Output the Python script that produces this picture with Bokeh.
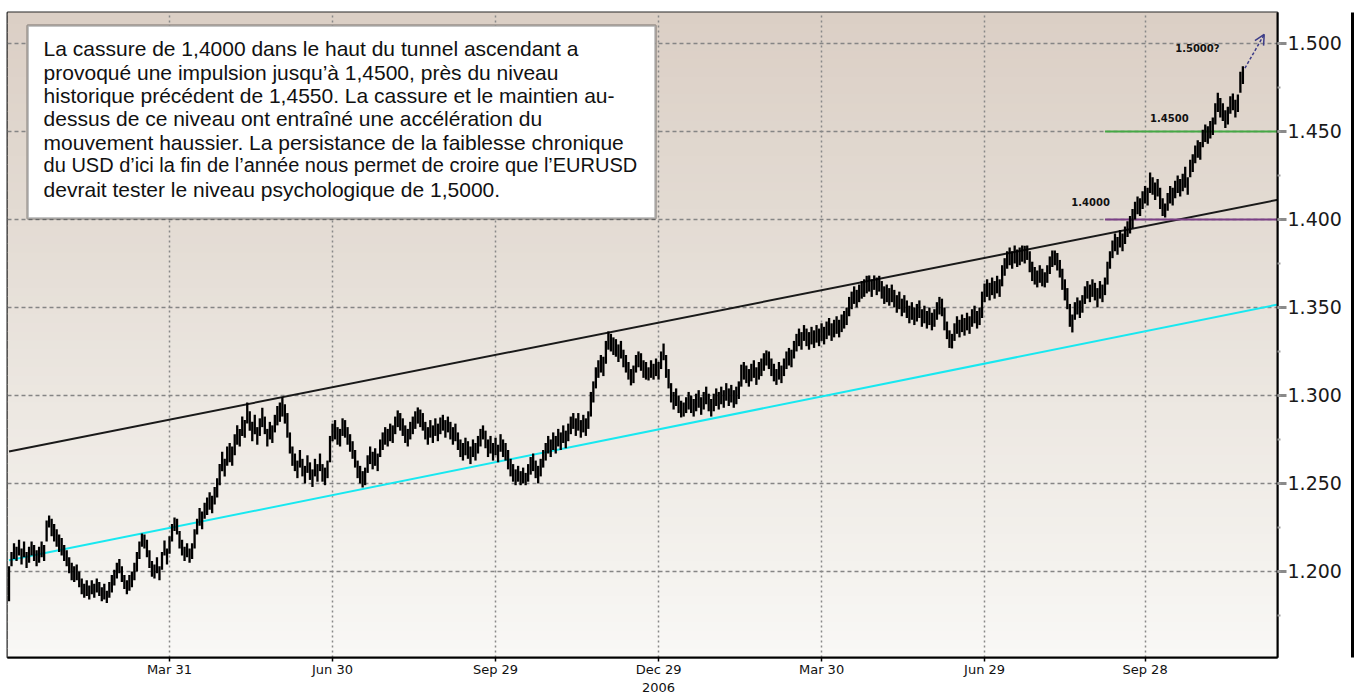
from bokeh.plotting import figure
from bokeh.models import (Range1d, FixedTicker, SingleIntervalTicker, NumeralTickFormatter,
                          BoxAnnotation, Label, Arrow, OpenHead, ColumnDataSource, LinearAxis)
from bokeh.embed import file_html
from bokeh.resources import INLINE

# ---------------- data (EUR/USD daily bars, Jan 2006 - Nov 2007), prices in 1/10000 ----------------
low_pips = [
    11830, 12030, 12070, 12060, 12090, 12040, 12080, 12020, 12050, 12090,
    12060, 12030, 12050, 12080, 12060, 12170, 12250, 12200, 12170, 12140,
    12110, 12090, 12060, 12030, 11990, 11950, 11940, 11950, 11910, 11870,
    11850, 11860, 11840, 11870, 11850, 11880, 11860, 11830, 11840, 11820,
    11850, 11880, 11920, 11960, 11990, 11940, 11900, 11870, 11890, 11910,
    11950, 12000, 12070, 12140, 12130, 12080, 12020, 11970, 11960, 11990,
    11950, 12010, 12090, 12040, 12100, 12170, 12230, 12210, 12130, 12090,
    12060, 12080, 12050, 12070, 12130, 12210, 12260, 12240, 12300, 12320,
    12350, 12330, 12380, 12420, 12490, 12570, 12540, 12600, 12620, 12600,
    12660, 12720, 12710, 12770, 12760, 12840, 12800, 12740, 12780, 12720,
    12770, 12820, 12780, 12710, 12750, 12730, 12790, 12830, 12850, 12880,
    12840, 12760, 12670, 12600, 12570, 12530, 12590, 12540, 12500, 12560,
    12520, 12480, 12540, 12510, 12570, 12510, 12490, 12530, 12620, 12740,
    12750, 12720, 12710, 12770, 12760, 12720, 12680, 12640, 12590, 12530,
    12500, 12477, 12490, 12560, 12610, 12580, 12600, 12570, 12650, 12690,
    12720, 12710, 12740, 12730, 12780, 12820, 12800, 12770, 12730, 12710,
    12750, 12780, 12810, 12840, 12820, 12800, 12750, 12720, 12760, 12730,
    12770, 12740, 12780, 12800, 12760, 12790, 12750, 12720, 12740, 12690,
    12650, 12630, 12660, 12640, 12610, 12650, 12630, 12670, 12710, 12750,
    12700, 12650, 12670, 12630, 12660, 12620, 12680, 12650, 12630, 12580,
    12540, 12510, 12490, 12510, 12490, 12500, 12490, 12510, 12550, 12570,
    12530, 12500, 12540, 12590, 12630, 12670, 12650, 12690, 12670, 12710,
    12690, 12730, 12700, 12740, 12780, 12810, 12770, 12800, 12760, 12790,
    12770, 12810, 12880, 12960, 13040, 13100, 13130, 13110, 13180, 13260,
    13250, 13230, 13220, 13190, 13210, 13160, 13130, 13090, 13057, 13070,
    13130, 13160, 13140, 13100, 13090, 13085, 13100, 13090, 13110, 13090,
    13150, 13200, 13100, 13040, 12960, 12920, 12940, 12900, 12875, 12880,
    12900, 12920, 12900, 12880, 12910, 12930, 12890, 12920, 12950, 12910,
    12880, 12910, 12940, 12920, 12950, 12930, 12970, 12940, 12960, 12930,
    12950, 12980, 13050, 13090, 13070, 13050, 13080, 13100, 13060, 13090,
    13110, 13140, 13170, 13150, 13110, 13080, 13060, 13090, 13070, 13110,
    13150, 13170, 13160, 13210, 13250, 13280, 13260, 13310, 13280, 13260,
    13290, 13270, 13300, 13280, 13310, 13290, 13320, 13340, 13310, 13330,
    13350, 13330, 13360, 13380, 13400, 13450, 13490, 13520, 13500, 13530,
    13550, 13560, 13580, 13590, 13560, 13600, 13570, 13590, 13550, 13520,
    13530, 13510, 13530, 13500, 13470, 13490, 13450, 13470, 13440, 13410,
    13430, 13400, 13420, 13440, 13390, 13410, 13380, 13400, 13370, 13390,
    13430, 13460, 13450, 13370, 13320, 13270, 13267, 13310, 13350, 13330,
    13360, 13340, 13370, 13350, 13390, 13410, 13380, 13400, 13440, 13530,
    13560, 13540, 13570, 13550, 13580, 13560, 13620, 13680, 13720, 13740,
    13720, 13750, 13730, 13740, 13760, 13750, 13770, 13700, 13650, 13630,
    13614, 13640, 13620, 13614, 13640, 13690, 13730, 13740, 13710, 13670,
    13600, 13540, 13490, 13390, 13358, 13430, 13460, 13440, 13470, 13520,
    13550, 13530, 13560, 13540, 13500, 13550, 13530, 13570, 13630, 13720,
    13780, 13820, 13800, 13840, 13820, 13860, 13900, 13920, 13950, 14000,
    14030, 14020, 14060, 14090, 14080, 14150, 14140, 14110, 14130, 14060,
    14020, 14011, 14050, 14090, 14080, 14120, 14150, 14130, 14160, 14180,
    14140, 14240, 14270, 14320, 14350, 14340, 14410, 14440, 14430, 14460,
    14480, 14540, 14610, 14580, 14560, 14520, 14540, 14600, 14620, 14580,
    14610, 14720, 14770,
]
high_pips = [
    12030, 12110, 12160, 12140, 12180, 12130, 12170, 12110, 12140, 12170,
    12150, 12120, 12140, 12170, 12150, 12290, 12318, 12300, 12270, 12240,
    12210, 12190, 12150, 12120, 12080, 12050, 12030, 12040, 12000, 11960,
    11930, 11950, 11920, 11950, 11930, 11960, 11940, 11910, 11930, 11890,
    11940, 11980, 12010, 12050, 12070, 12030, 11980, 11950, 11980, 12000,
    12050, 12110, 12170, 12216, 12210, 12180, 12120, 12060, 12040, 12080,
    12030, 12110, 12176, 12130, 12200, 12270, 12307, 12300, 12230, 12180,
    12140, 12160, 12130, 12160, 12240, 12300, 12360, 12340, 12390, 12420,
    12450, 12430, 12480, 12530, 12610, 12680, 12640, 12710, 12730, 12710,
    12780, 12830, 12810, 12880, 12860, 12960, 12910, 12850, 12890, 12820,
    12870, 12930, 12880, 12810, 12850, 12830, 12890, 12940, 12960, 12990,
    12950, 12900, 12790, 12710, 12670, 12630, 12690, 12640, 12600, 12660,
    12620, 12580, 12640, 12610, 12670, 12610, 12590, 12630, 12770, 12840,
    12860, 12820, 12810, 12870, 12860, 12820, 12780, 12740, 12690, 12630,
    12600, 12570, 12590, 12660, 12710, 12680, 12700, 12670, 12750, 12790,
    12820, 12810, 12840, 12830, 12880, 12915, 12900, 12870, 12830, 12810,
    12850, 12880, 12910, 12932, 12920, 12900, 12850, 12820, 12860, 12830,
    12870, 12840, 12875, 12890, 12860, 12880, 12850, 12820, 12840, 12790,
    12750, 12730, 12760, 12740, 12710, 12750, 12730, 12770, 12810, 12830,
    12800, 12750, 12770, 12730, 12760, 12720, 12780, 12750, 12730, 12690,
    12640, 12610, 12580, 12600, 12570, 12590, 12560, 12610, 12650, 12670,
    12630, 12600, 12640, 12690, 12730, 12770, 12750, 12790, 12770, 12810,
    12790, 12830, 12800, 12840, 12880, 12900, 12870, 12900, 12860, 12890,
    12870, 12910, 13020, 13080, 13160, 13200, 13230, 13220, 13310, 13364,
    13350, 13330, 13320, 13290, 13310, 13260, 13230, 13190, 13150, 13170,
    13230, 13250, 13240, 13200, 13190, 13160, 13200, 13180, 13210, 13190,
    13250, 13295, 13230, 13150, 13070, 13020, 13040, 13000, 12970, 12960,
    12990, 13020, 13000, 12980, 13010, 13030, 12990, 13020, 13050, 13010,
    12980, 13010, 13040, 13020, 13050, 13030, 13070, 13040, 13060, 13030,
    13050, 13080, 13175, 13190, 13170, 13150, 13180, 13200, 13160, 13190,
    13210, 13240, 13256, 13250, 13210, 13180, 13150, 13190, 13170, 13210,
    13250, 13270, 13260, 13310, 13350, 13380, 13360, 13400, 13380, 13360,
    13390, 13370, 13400, 13380, 13410, 13390, 13420, 13440, 13410, 13430,
    13450, 13430, 13460, 13480, 13500, 13560, 13590, 13620, 13600, 13630,
    13650, 13660, 13680, 13682, 13660, 13682, 13670, 13680, 13650, 13620,
    13630, 13610, 13630, 13600, 13570, 13590, 13550, 13570, 13540, 13510,
    13530, 13500, 13520, 13540, 13490, 13510, 13480, 13500, 13470, 13490,
    13530, 13560, 13550, 13500, 13420, 13370, 13350, 13410, 13450, 13430,
    13460, 13440, 13470, 13450, 13490, 13510, 13480, 13500, 13590, 13636,
    13660, 13640, 13670, 13650, 13680, 13660, 13740, 13780, 13820, 13840,
    13820, 13852, 13830, 13840, 13852, 13850, 13852, 13820, 13760, 13730,
    13710, 13740, 13720, 13700, 13740, 13790, 13824, 13824, 13810, 13770,
    13720, 13660, 13610, 13520, 13460, 13530, 13557, 13540, 13570, 13620,
    13650, 13630, 13660, 13640, 13610, 13650, 13630, 13670, 13760, 13820,
    13880, 13920, 13900, 13940, 13920, 13960, 13990, 14020, 14060, 14100,
    14130, 14120, 14160, 14190, 14180, 14267, 14240, 14210, 14230, 14180,
    14120, 14090, 14150, 14190, 14180, 14220, 14250, 14230, 14260, 14300,
    14240, 14340, 14370, 14420, 14450, 14440, 14510, 14540, 14530, 14560,
    14580, 14660, 14720, 14690, 14660, 14620, 14640, 14700, 14716, 14680,
    14710, 14840, 14870,
]

# x axis: bar index of the labelled dates
x_tick_idx = [64, 129, 194, 259, 324, 389, 453]
x_tick_labels = ["Mar 31", "Jun 30", "Sep 29", "Dec 29\n2006", "Mar 30", "Jun 29", "Sep 28"]

# trend channel (bar index, price)
channel_idx = [0, 506]
upper_channel = [1.2682, 1.4112]
lower_channel = [1.2063, 1.3517]

# horizontal levels
level_values = [1.45, 1.40]
level_colors = ["#45a845", "#7a3f86"]
level_start_idx = 437
level_texts = ["1.4500", "1.4000"]
target_text = "1.5000?"
target_point = [500.5, 1.5051]

note_lines = [
    "La cassure de 1,4000 dans le haut du tunnel ascendant a",
    "provoqué une impulsion jusqu’à 1,4500, près du niveau",
    "historique précédent de 1,4550. La cassure et le maintien au-",
    "dessus de ce niveau ont entraîné une accélération du",
    "mouvement haussier. La persistance de la faiblesse chronique",
    "du USD d’ici la fin de l’année nous permet de croire que l’EURUSD",
    "devrait tester le niveau psychologique de 1,5000.",
]

# ---------------- figure ----------------
n = len(low_pips)
src = ColumnDataSource(dict(
    idx=list(range(n)),
    low=[v / 10000 for v in low_pips],
    high=[v / 10000 for v in high_pips[:n]],
))

Y0, Y1 = 1.1511, 1.5176
p = figure(width=1358, height=698, output_backend="svg", toolbar_location=None,
           x_range=Range1d(-0.6, 505.8), y_range=Range1d(Y0, Y1),
           y_axis_location="right", min_border_left=7, min_border_top=12,
           min_border_right=81, min_border_bottom=41)
p.background_fill_color = "#f3f0eb"
p.border_fill_color = "white"
p.outline_line_color = "#262626"
p.outline_line_width = 2

# vertical background gradient (tan at top -> white at bottom)
stops = [(Y0, (249, 248, 246)), (1.20, (244, 242, 238)), (1.30, (236, 231, 225)),
         (1.40, (227, 219, 211)), (Y1, (219, 207, 197))]


def grad_color(v):
    for (a, ca), (b, cb) in zip(stops[:-1], stops[1:]):
        if a <= v <= b:
            t = (v - a) / (b - a)
            c = [round(ca[k] + (cb[k] - ca[k]) * t) for k in range(3)]
            return "#%02x%02x%02x" % tuple(c)
    return "#%02x%02x%02x" % stops[-1][1]


step = 0.005
b = Y0
while b < Y1:
    p.add_layout(BoxAnnotation(bottom=b, top=min(b + step + 0.0004, Y1 + 0.001),
                               fill_color=grad_color(b + step / 2), fill_alpha=1.0,
                               line_alpha=0, level="image"))
    b += step

# grid
p.xgrid.grid_line_color = "#888888"
p.xgrid.grid_line_dash = "2 3"
p.xgrid.grid_line_width = 1.5
p.ygrid.grid_line_color = "#858585"
p.ygrid.grid_line_dash = "4 3"
p.ygrid.grid_line_width = 1.5

# axes
xa = p.xaxis[0]
xa.ticker = FixedTicker(ticks=x_tick_idx)
xa.major_label_overrides = {t: lab for t, lab in zip(x_tick_idx, x_tick_labels)}
xa.axis_line_color = "black"
xa.axis_line_width = 2
xa.major_tick_out = 4
xa.major_tick_in = 0
xa.major_tick_line_color = "black"
xa.major_tick_line_width = 1.5
xa.minor_tick_line_color = None
xa.major_label_text_font = "DejaVu Sans"
xa.major_label_text_font_size = "13px"
xa.major_label_text_color = "#111111"
xa.major_label_standoff = 0

ya = p.yaxis[0]
ya.ticker = SingleIntervalTicker(interval=0.05, num_minor_ticks=2)
ya.formatter = NumeralTickFormatter(format="0.000")
ya.axis_line_color = "black"
ya.axis_line_width = 2
ya.major_tick_out = 9
ya.major_tick_in = 0
ya.major_tick_line_color = "#8a8a8a"
ya.major_tick_line_width = 3
ya.minor_tick_out = 3
ya.minor_tick_in = 0
ya.minor_tick_line_color = "#a0a0a0"
ya.minor_tick_line_width = 2
ya.major_label_text_font = "DejaVu Sans"
ya.major_label_text_font_size = "19px"
ya.major_label_text_color = "#1a1a1a"
ya.major_label_standoff = 1
ya.axis_label = " "
ya.axis_label_text_font_size = "4px"
ya.axis_label_standoff = 0

# outer right border of the price-scale box (an empty axis stacked after the price axis)
edge = LinearAxis(ticker=FixedTicker(ticks=[]), axis_line_color="black", axis_line_width=3,
                  major_tick_line_color=None, minor_tick_line_color=None,
                  major_label_text_alpha=0)
p.add_layout(edge, "right")

# channel lines
p.line(channel_idx, upper_channel, line_color="#1a1a1a", line_width=2)
p.line(channel_idx, lower_channel, line_color="#18e8f0", line_width=2)

# horizontal levels
for lv, col in zip(level_values, level_colors):
    p.segment(x0=[level_start_idx], y0=[lv], x1=[channel_idx[1]], y1=[lv],
              line_color=col, line_width=2)

# price bars
p.segment(x0="idx", y0="low", x1="idx", y1="high", source=src,
          line_color="black", line_width=2.3)

# level captions
cap_font = "DejaVu Sans"
for txt, xx, yy in [(target_text, 465.0, 1.4971), (level_texts[0], 455.0, 1.4574),
                    (level_texts[1], 423.6, 1.4102)]:
    p.add_layout(Label(x=xx, y=yy, text=txt, text_font=cap_font,
                       text_font_size="10px", text_font_style="bold", text_baseline="middle",
                       text_color="#111111"))

# target arrow
p.add_layout(Arrow(end=OpenHead(size=10, line_color="#3c3c88", line_width=1.5),
                   x_start=n - 0.2, y_start=high_pips[-1] / 10000 - 0.0010,
                   x_end=target_point[0], y_end=target_point[1],
                   line_color="#3c3c88", line_width=1.5, line_dash="3 2"))

# comment box
p.add_layout(BoxAnnotation(left=7.4, right=257.8, bottom=1.4006, top=1.5102,
                           fill_color="white", fill_alpha=1, line_color="black",
                           line_width=2.5))
line_y = [1.4971, 1.4835, 1.4704, 1.4574, 1.4437, 1.4307, 1.4170]
for i, (txt, yy) in enumerate(zip(note_lines, line_y)):
    p.add_layout(Label(x=13.8, y=yy, text=txt, text_font="Liberation Sans",
                       text_font_size="20px" if i == 5 else "21px",
                       text_baseline="middle", text_color="#111111"))

open("out.html", "w").write(file_html(p, INLINE))
